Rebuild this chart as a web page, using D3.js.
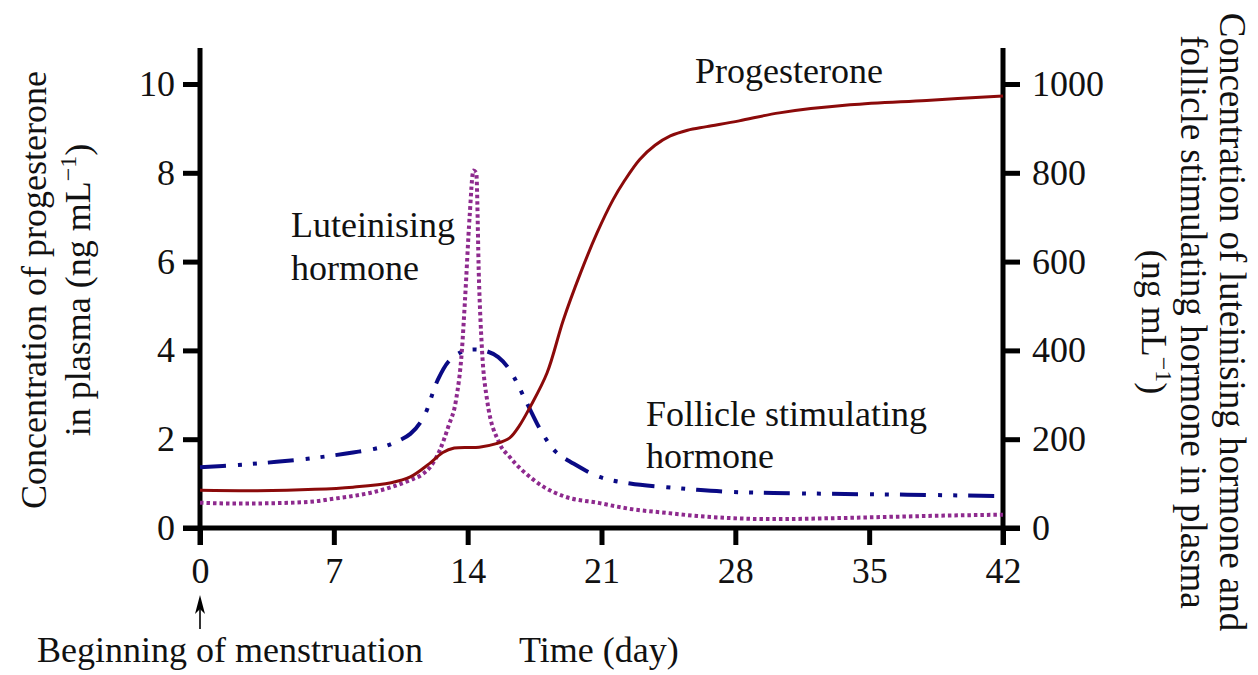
<!DOCTYPE html>
<html lang="en">
<head>
<meta charset="UTF-8">
<title>Hormone concentrations</title>
<script src="https://d3js.org/d3.v7.min.js"></script>
<style>
  body { margin: 0; background: #fff; }
  svg text { font-family: "Liberation Serif", "Times New Roman", serif; fill: #111; }
</style>
</head>
<body>
<svg id="chart" width="1258" height="675"></svg>
<script>
// values (day, value)
var days = [0, 7, 14, 21, 28, 35, 42];
var leftTicks = [0, 2, 4, 6, 8, 10];
var rightTicks = [0, 200, 400, 600, 800, 1000];

// progesterone, ng/mL (left axis)
var progesterone = [
  [0, 0.85], [3, 0.84], [6, 0.87], [8, 0.92], [10, 1.02], [11, 1.15], [12, 1.45],
  [12.7, 1.7], [13.3, 1.8], [14.6, 1.82], [15.5, 1.9], [16.2, 2.03], [16.7, 2.3],
  [17.26, 2.72], [18.15, 3.49], [19, 4.68], [19.9, 5.74], [20.76, 6.64], [21.6, 7.39],
  [22.2, 7.82], [23, 8.3], [23.8, 8.62], [24.6, 8.83], [25.5, 8.96], [26.5, 9.04],
  [28.2, 9.17], [30.3, 9.35], [34, 9.53], [38, 9.63], [42, 9.73]
];

// luteinising hormone (right axis)
var lh = [
  [0, 57], [2, 55], [4, 56], [6, 60], [7, 66], [8, 72], [9, 80], [10, 92], [11, 108],
  [11.6, 120], [12, 135], [12.55, 176], [13, 230], [13.39, 288], [13.7, 401], [13.86, 513],
  [14.1, 700], [14.3, 805], [14.45, 800], [14.59, 560], [14.75, 401], [15.01, 290],
  [15.65, 192], [16.2, 160], [17.4, 110], [18, 92], [19, 72], [20.9, 56], [22.5, 43],
  [24.4, 34], [26, 27], [27.9, 22], [30, 20], [33, 22], [36, 25], [39, 28], [42, 30]
];

// follicle stimulating hormone (right axis)
var fsh = [
  [0, 137], [2, 142], [4, 149], [6, 158], [8, 170], [9.5, 182], [10.1, 191], [11, 212],
  [11.7, 250], [12.4, 330], [13, 375], [13.7, 397], [14.3, 402], [15, 398], [15.6, 385],
  [16.2, 356], [17.1, 281], [17.9, 214], [18.6, 172], [19.5, 146], [20.9, 115], [22.5, 100],
  [24.4, 92], [26, 86], [27.9, 81], [30, 79], [33, 77], [37, 75], [42, 72]
];

var svg = d3.select("#chart");
var fs = 36;

var x = d3.scaleLinear().domain([0, 42]).range([200, 1003]),
    yL = d3.scaleLinear().domain([0, 10]).range([528, 84]),
    yR = d3.scaleLinear().domain([0, 1000]).range([528, 84]);

// axes (domain paths replaced by longer hand drawn lines)
var gL = svg.append("g").attr("transform", "translate(200,0)")
  .call(d3.axisLeft(yL).tickValues(leftTicks).tickSize(17).tickPadding(8));
var gR = svg.append("g").attr("transform", "translate(1003,0)")
  .call(d3.axisRight(yR).tickValues(rightTicks).tickFormat(d3.format("d")).tickSize(17).tickPadding(12));
var gB = svg.append("g").attr("transform", "translate(0,528)")
  .call(d3.axisBottom(x).tickValues(days).tickSize(17).tickPadding(12));

[gL, gR, gB].forEach(function(g) {
  g.select(".domain").remove();
  g.selectAll(".tick line").attr("stroke", "#000").attr("stroke-width", 5);
  g.selectAll(".tick text").attr("font-size", fs).attr("font-family", "Liberation Serif").attr("fill", "#111");
});

svg.append("line").attr("x1", 200).attr("x2", 200).attr("y1", 48).attr("y2", 545)
  .attr("stroke", "#000").attr("stroke-width", 5);
svg.append("line").attr("x1", 1003).attr("x2", 1003).attr("y1", 48).attr("y2", 545)
  .attr("stroke", "#000").attr("stroke-width", 5);
svg.append("line").attr("x1", 183).attr("x2", 1020).attr("y1", 528).attr("y2", 528)
  .attr("stroke", "#000").attr("stroke-width", 5);

// curves
var smooth = d3.curveCatmullRom.alpha(0.5);
var lineL = d3.line().x(function(d) { return x(d[0]); }).y(function(d) { return yL(d[1]); }).curve(smooth);
var lineR = d3.line().x(function(d) { return x(d[0]); }).y(function(d) { return yR(d[1]); }).curve(smooth);
var lineLH = d3.line().x(function(d) { return x(d[0]); }).y(function(d) { return yR(d[1]); }).curve(d3.curveMonotoneX);

svg.append("path").datum(fsh).attr("d", lineR)
  .attr("fill", "none").attr("stroke", "#0a0a85").attr("stroke-width", 4)
  .attr("stroke-dasharray", "26,12,4,11,4,11");
svg.append("path").datum(lh).attr("d", lineLH)
  .attr("fill", "none").attr("stroke", "#8e2a8e").attr("stroke-width", 4)
  .attr("stroke-dasharray", "3.5,3");
svg.append("path").datum(progesterone).attr("d", lineL)
  .attr("fill", "none").attr("stroke", "#8b0a0a").attr("stroke-width", 3);

// curve labels
function label(txt, px, py) {
  svg.append("text").attr("x", px).attr("y", py).attr("font-size", fs).text(txt);
}
label("Progesterone", 695, 83);
label("Luteinising", 291, 237);
label("hormone", 291, 280);
label("Follicle stimulating", 646, 426);
label("hormone", 646, 468);

// left axis title
var tl = svg.append("g").attr("transform", "translate(46,290) rotate(-90)");
tl.append("text").attr("text-anchor", "middle").attr("font-size", fs).text("Concentration of progesterone");
var tl2 = tl.append("text").attr("text-anchor", "middle").attr("y", 44).attr("font-size", fs);
tl2.append("tspan").text("in plasma (ng mL");
tl2.append("tspan").attr("dy", -14).attr("font-size", 24).text("\u22121");
tl2.append("tspan").attr("dy", 14).text(")");

// right axis title
var tr = svg.append("g").attr("transform", "translate(1220,322) rotate(90)");
tr.append("text").attr("text-anchor", "middle").attr("font-size", 37).text("Concentration of luteinising hormone and");
tr.append("text").attr("text-anchor", "middle").attr("y", 39).attr("font-size", 37).text("follicle stimulating hormone in plasma");
var tr3 = tr.append("text").attr("text-anchor", "middle").attr("y", 78).attr("font-size", fs);
tr3.append("tspan").text("(ng mL");
tr3.append("tspan").attr("dy", -14).attr("font-size", 24).text("\u22121");
tr3.append("tspan").attr("dy", 14).text(")");

// bottom annotation arrow
svg.append("line").attr("x1", x(0)).attr("x2", x(0)).attr("y1", 629).attr("y2", 605)
  .attr("stroke", "#000").attr("stroke-width", 1.6);
svg.append("path")
  .attr("d", "M" + x(0) + ",595 L" + (x(0) - 5) + ",614 L" + x(0) + ",609 L" + (x(0) + 5) + ",614 Z")
  .attr("fill", "#000");
label("Beginning of menstruation", 37, 662);
label("Time (day)", 519, 662);
</script>
</body>
</html>
